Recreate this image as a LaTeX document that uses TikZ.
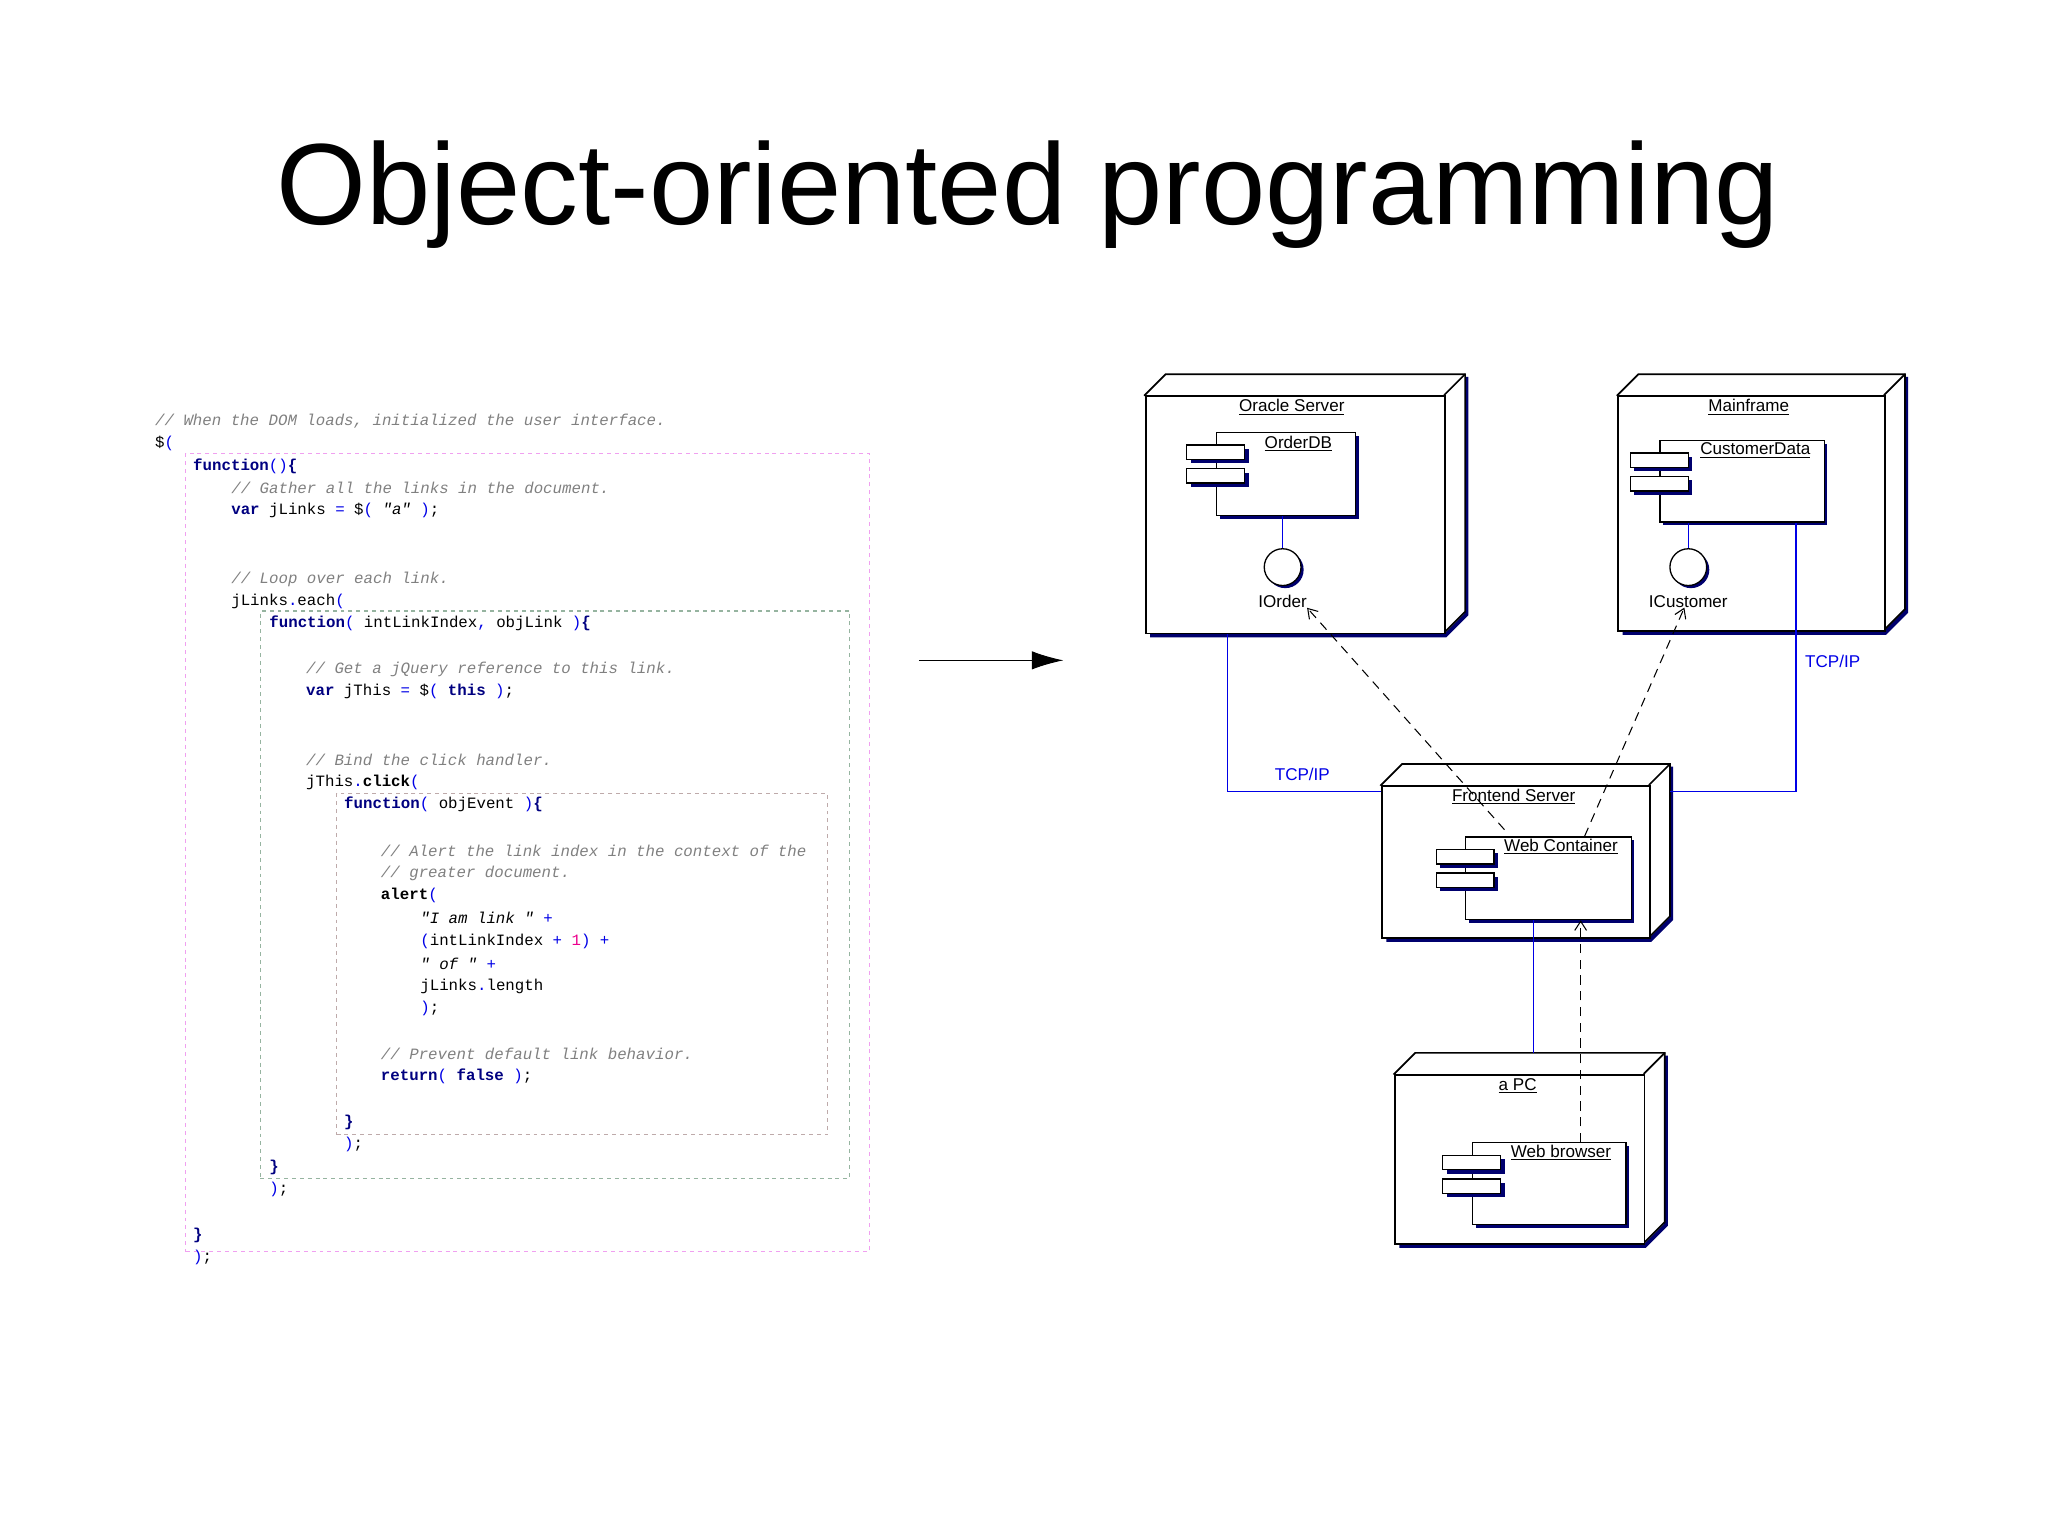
\documentclass[tikz,border=0pt]{standalone}
\usepackage{fontspec}
\setmainfont{Liberation Sans}
\setmonofont{Liberation Mono}
\usetikzlibrary{arrows.meta}
\definecolor{kwc}{RGB}{0,0,128}
\definecolor{cmc}{RGB}{128,128,128}
\definecolor{pbc}{RGB}{0,0,230}
\definecolor{shd}{RGB}{0,0,110}
\definecolor{pinkb}{RGB}{240,160,240}
\definecolor{greenb}{RGB}{150,180,160}
\definecolor{grayb}{RGB}{190,170,170}
\newcommand\kw[1]{\textcolor{kwc}{\textbf{#1}}}
\newcommand\cm[1]{\textcolor{cmc}{\textit{#1}}}
\newcommand\pb[1]{\textcolor{pbc}{#1}}
\newcommand\bk[1]{\textbf{#1}}
\tikzset{
  code/.style={anchor=west,inner sep=0pt,font=\ttfamily\fontsize{12}{12}\selectfont},
  dlab/.style={inner sep=0pt,font=\fontsize{13}{13}\selectfont},
  front/.style={draw,line width=1.3pt,fill=white,anchor=north west,inner sep=0pt},
  comp/.style={draw,line width=1pt,fill=white,anchor=north west,inner sep=0pt},
  tcp/.style={draw=pbc,line width=0.9pt},
  dep/.style={draw,dashed,dash pattern=on 7pt off 5pt,line width=0.8pt,-{Straight Barb[length=7pt,width=9pt]}},
}
% 3D node: name, x, y, w, h
\newcommand\dnode[5]{%
  \draw[shd,line width=3pt] (#2+4,#3+#5+2) -- (#2+#4+1,#3+#5+2) -- (#2+#4+17,#3+#5-14) -- (#2+#4+17,#3-14);
  \draw[line width=1.3pt,fill=white] (#2,#3) -- (#2+16,#3-16) -- (#2+#4+16,#3-16) -- (#2+#4+16,#3+#5-16) -- (#2+#4,#3+#5) -- cycle;
  \draw[line width=1.3pt] (#2+#4,#3) -- (#2+#4+16,#3-16);
  \node[front,minimum width=#4pt,minimum height=#5pt] (#1) at (#2,#3) {};
}
% component: name, x, y, w, h
\newcommand\dcomp[5]{%
  \fill[shd] (#2+3,#3+3) rectangle (#2+#4+3,#3+#5+3);
  \node[comp,minimum width=#4pt,minimum height=#5pt] (#1) at (#2,#3) {};
  \fill[shd] (#2-19,#3+13) rectangle (#2+25,#3+24);
  \fill[shd] (#2-19,#3+31) rectangle (#2+25,#3+42);
  \draw[line width=1pt,fill=white] (#2-22,#3+10) rectangle (#2+22,#3+21);
  \draw[line width=1pt,fill=white] (#2-22,#3+28) rectangle (#2+22,#3+39);
}
\begin{document}
\begin{tikzpicture}[x=1pt,y=-1pt]
\useasboundingbox (0,0) rectangle (1560,1169);
\node[inner sep=0pt,font=\fontsize{88}{88}\selectfont] (title) at (783,148) {Object-oriented programming};

% code boxes
\node[draw=pinkb,dashed,line width=0.8pt,anchor=north west,minimum width=521pt,minimum height=608pt,inner sep=0pt] (b1) at (141,345) {};
\node[draw=greenb,dashed,line width=0.8pt,anchor=north west,minimum width=449pt,minimum height=432pt,inner sep=0pt] (b2) at (198,465) {};
\node[draw=grayb,dashed,line width=0.8pt,anchor=north west,minimum width=374pt,minimum height=260pt,inner sep=0pt] (b3) at (256,604) {};

\node[code] (c0) at (118,321) {\cm{// When the DOM loads, initialized the user interface.}};
\node[code] (c1) at (118,338) {\$\pb{(}};
\node[code] (c2) at (147,355) {\kw{function}\pb{()}\kw{\{}};
\node[code] (c3) at (176,372) {\cm{// Gather all the links in the document.}};
\node[code] (c4) at (176,389) {\kw{var} jLinks \pb{=} \$\pb{(} \textit{"a"} \pb{)};};
\node[code] (c7) at (176,441) {\cm{// Loop over each link.}};
\node[code] (c8) at (176,458) {jLinks\pb{.}each\pb{(}};
\node[code] (c9) at (205,475) {\kw{function}\pb{(} intLinkIndex\pb{,} objLink \pb{)}\kw{\{}};
\node[code] (c11) at (233,510) {\cm{// Get a jQuery reference to this link.}};
\node[code] (c12) at (233,527) {\kw{var} jThis \pb{=} \$\pb{(} \kw{this} \pb{)};};
\node[code] (c15) at (233,579) {\cm{// Bind the click handler.}};
\node[code] (c16) at (233,596) {jThis\pb{.}\bk{click}\pb{(}};
\node[code] (c17) at (262,613) {\kw{function}\pb{(} objEvent \pb{)}\kw{\{}};
\node[code] (c19) at (290,648) {\cm{// Alert the link index in the context of the}};
\node[code] (c20) at (290,665) {\cm{// greater document.}};
\node[code] (c21) at (290,682) {\bk{alert}\pb{(}};
\node[code] (c22) at (320,699) {\textit{"I am link "} \pb{+}};
\node[code] (c23) at (320,717) {\pb{(}intLinkIndex \pb{+} \textcolor{magenta}{1}\pb{)} \pb{+}};
\node[code] (c24) at (320,734) {\textit{" of "} \pb{+}};
\node[code] (c25) at (320,751) {jLinks\pb{.}length};
\node[code] (c26) at (320,768) {\pb{)};};
\node[code] (c28) at (290,803) {\cm{// Prevent default link behavior.}};
\node[code] (c29) at (290,820) {\kw{return}\pb{(} \kw{false} \pb{)};};
\node[code] (c31) at (262,855) {\kw{\}}};
\node[code] (c32) at (262,872) {\pb{)};};
\node[code] (c33) at (205,889) {\kw{\}}};
\node[code] (c34) at (205,906) {\pb{)};};
\node[code] (c36) at (147,941) {\kw{\}}};
\node[code] (c37) at (147,958) {\pb{)};};

% big arrow
\coordinate (a1) at (700,503);
\coordinate (a2) at (810,503);
\draw[line width=0.8pt,-{Latex[length=24pt,width=14pt]}] (a1) -- (a2);

% nodes
\dnode{oracle}{872}{301}{228}{181}
\dnode{mainframe}{1232}{301}{203}{179}
\dnode{frontend}{1052}{598}{204}{116}
\dnode{apc}{1062}{818}{190}{129}
\node[dlab] at (984,310) {\underline{Oracle Server}};
\node[dlab] at (1332,310) {\underline{Mainframe}};
\node[dlab] at (1153,607) {\underline{Frontend Server}};
\node[dlab] at (1156,827) {\underline{a PC}};

% components
\dcomp{orderdb}{926}{329}{106}{63}
\dcomp{custdata}{1264}{335}{125}{62}
\dcomp{webc}{1116}{637}{126}{63}
\dcomp{webb}{1121}{870}{117}{62}
\node[dlab] at (989,338) {\underline{OrderDB}};
\node[dlab] at (1337,343) {\underline{CustomerData}};
\node[dlab] at (1189,645) {\underline{Web Container}};
\node[dlab] at (1189,878) {\underline{Web browser}};

% interfaces
\fill[shd] (979,434) circle (14);
\node[draw,circle,line width=1pt,fill=white,minimum size=28pt,inner sep=0pt] (iorder) at (977,432) {};
\fill[shd] (1288,434) circle (14);
\node[draw,circle,line width=1pt,fill=white,minimum size=28pt,inner sep=0pt] (icust) at (1286,432) {};
\node[dlab] (iorderl) at (977,458) {IOrder};
\node[dlab] (icustl) at (1286,458) {ICustomer};
\draw[pbc,line width=0.9pt] (orderdb.south -| iorder) -- (iorder.north);
\draw[pbc,line width=0.9pt] (custdata.south -| icust) -- (icust.north);

% TCP/IP links
\draw[tcp] (oracle.south -| 935,0) |- (frontend.west |- 0,603);
\draw[tcp] (custdata.south -| 1368,0) |- (1272,603);
\node[dlab,text=pbc] at (992,590) {TCP/IP};
\node[dlab,text=pbc] at (1396,504) {TCP/IP};
\draw[tcp] (webc.south -| 1168,0) -- (1168,802);

% dependencies
\draw[dep] (1146,632) -- (iorderl.south east);
\draw[dep] (1207,637) -- ([xshift=-3pt]icustl.south);
\draw[dep] (webb.north -| 1204,0) -- (webc.south -| 1204,0);
\end{tikzpicture}
\end{document}
